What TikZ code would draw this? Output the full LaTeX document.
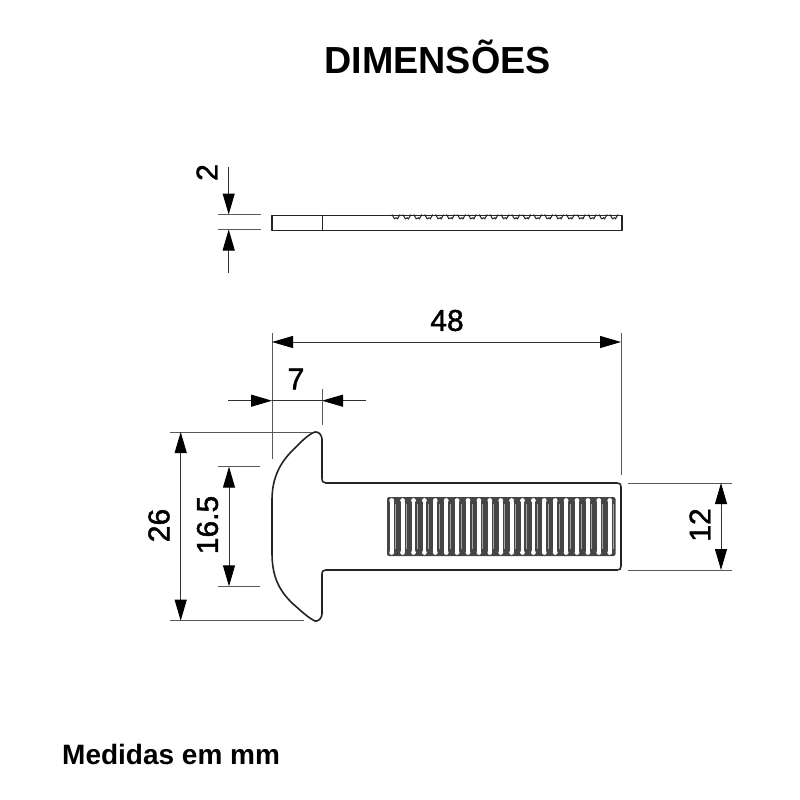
\documentclass[tikz,border=0pt]{standalone}
\usepackage{fontspec}
\setmainfont{Liberation Sans}
\newfontfamily\dimfont[FakeBold=1.5]{Liberation Sans}
\usetikzlibrary{arrows.meta}

\definecolor{inkdark}{HTML}{242424}
\definecolor{inkdim}{HTML}{303030}

\tikzset{
  outline/.style={draw=inkdark, line width=1.6pt, line join=round},
  extline/.style={draw=inkdim!80, line width=0.9pt},
  dimline/.style={draw=inkdim, line width=1pt},
  tipin/.style={dimline, -{Triangle[length=21pt,width=12pt,color=black]}},
  tipboth/.style={dimline, {Triangle[length=21pt,width=12pt,color=black]}-{Triangle[length=21pt,width=12pt,color=black]}},
  dimlabel/.style={inner sep=0pt, text=black, font=\dimfont\fontsize{30}{30}\selectfont},
}

\begin{document}
\begin{tikzpicture}[x=1pt, y=-1pt]
\useasboundingbox[fill=white] (0,0) rectangle (800,800);

%Declare texts.
\node[inner sep=0pt, font=\fontsize{37.7}{38}\selectfont\bfseries] (title) at (437.5,57) {DIMENSÕES};
\node[inner sep=0pt, anchor=west, font=\fontsize{28}{28}\selectfont\bfseries] (note) at (62,754) {Medidas em mm};

%Edge view of the plate.
\node[outline, inner sep=0pt, minimum width=350pt, minimum height=15pt, anchor=north west] (edge) at (271,214.5) {};
\draw[outline] (322.3,214.5) -- (322.3,229.5);
\foreach \i in {0,...,20} {
  \draw[inkdark, line width=1pt] ({396+10.9*\i-4},214.5) -- ({396+10.9*\i-1.6},218.8) arc (200:340:1.7) -- ({396+10.9*\i+4},214.5);
}

%Plan view of the plate.
\draw[outline] (315,432) .. controls (318,431) and (322,435) .. (322,439)
  -- (322,478) .. controls (322,481.5) and (323,483) .. (326,483)
  -- (617,483) .. controls (620,483) and (621,484) .. (621,487)
  -- (621,566) .. controls (621,569) and (620,570) .. (617,570)
  -- (326,570) .. controls (323,570) and (322,571) .. (322,575)
  -- (322,614) .. controls (322,618) and (318,622) .. (315,621)
  .. controls (308,618) and (298,608) .. (292,603)
  .. controls (280,591) and (272,578) .. (272,553)
  -- (272,500) .. controls (272,478) and (280,463) .. (292,451)
  .. controls (298,445) and (308,434) .. (315,432) -- cycle;

%Grip slots.
\fill[inkdark!85, rounded corners=2pt] (387,497) rectangle (615.5,556);
\foreach \i in {0,...,20} {
  \fill[white] ({391.7+10.9*\i-1.9},501.5) rectangle ({391.7+10.9*\i+1.9},551.5);
  \fill[white] ({391.7+10.9*\i},500.5) circle (2.4pt);
  \fill[white] ({391.7+10.9*\i},552.5) circle (2.4pt);
  \draw[white!60!inkdark, line width=0.9pt] ({391.7+10.9*\i+4},504) -- ({391.7+10.9*\i+4},549);
}

%Declare dimension points.
\coordinate (t2a) at (228.7,167);
\coordinate (t2b) at (228.7,214.5);
\coordinate (t2c) at (228.7,229.5);
\coordinate (t2d) at (228.7,272.5);
\coordinate (e2a) at (218,214.5);
\coordinate (e2b) at (260.5,214.5);
\coordinate (e2c) at (218,229.5);
\coordinate (e2d) at (260.5,229.5);

\coordinate (t48a) at (272,342);
\coordinate (t48b) at (621,342);
\coordinate (e48a) at (272,333);
\coordinate (e48b) at (272,458.5);
\coordinate (e48c) at (621,333);
\coordinate (e48d) at (621,475);

\coordinate (t7a) at (228,400.7);
\coordinate (t7b) at (272,400.7);
\coordinate (t7c) at (322,400.7);
\coordinate (t7d) at (366,400.7);
\coordinate (e7a) at (322,389);
\coordinate (e7b) at (322,425);

\coordinate (t26a) at (180.7,432);
\coordinate (t26b) at (180.7,620.7);
\coordinate (e26a) at (170,432);
\coordinate (e26b) at (312,432);
\coordinate (e26c) at (170,620.7);
\coordinate (e26d) at (304,620.7);

\coordinate (t16a) at (229,466.7);
\coordinate (t16b) at (229,586.3);
\coordinate (e16a) at (218,466.7);
\coordinate (e16b) at (260,466.7);
\coordinate (e16c) at (218,586.3);
\coordinate (e16d) at (260,586.3);

\coordinate (t12a) at (721,483);
\coordinate (t12b) at (721,570);
\coordinate (e12a) at (628,483);
\coordinate (e12b) at (731.5,483);
\coordinate (e12c) at (628,570);
\coordinate (e12d) at (731.5,570);

%Setup extension lines.
\draw[extline] (e2a) -- (e2b);
\draw[extline] (e2c) -- (e2d);
\draw[extline] (e48a) -- (e48b);
\draw[extline] (e48c) -- (e48d);
\draw[extline] (e7a) -- (e7b);
\draw[extline] (e26a) -- (e26b);
\draw[extline] (e26c) -- (e26d);
\draw[extline] (e16a) -- (e16b);
\draw[extline] (e16c) -- (e16d);
\draw[extline] (e12a) -- (e12b);
\draw[extline] (e12c) -- (e12d);

%Setup dimension arrows.
\draw[tipin] (t2a) -- (t2b);
\draw[tipin] (t2d) -- (t2c);
\draw[tipboth] (t48a) -- (t48b);
\draw[tipin] (t7a) -- (t7b);
\draw[tipin] (t7d) -- (t7c);
\draw[dimline] (t7b) -- (t7c);
\draw[tipboth] (t26a) -- (t26b);
\draw[tipboth] (t16a) -- (t16b);
\draw[tipboth] (t12a) -- (t12b);

%Declare dimension labels.
\node[dimlabel, rotate=90] (l2) at (207,172.5) {2};
\node[dimlabel] (l48) at (447,320.5) {48};
\node[dimlabel] (l7) at (296,379) {7};
\node[dimlabel, rotate=90] (l26) at (159,525.5) {26};
\node[dimlabel, rotate=90] (l16) at (207.5,525) {16.5};
\node[dimlabel, rotate=90] (l12) at (700,525) {12};

\end{tikzpicture}
\end{document}
